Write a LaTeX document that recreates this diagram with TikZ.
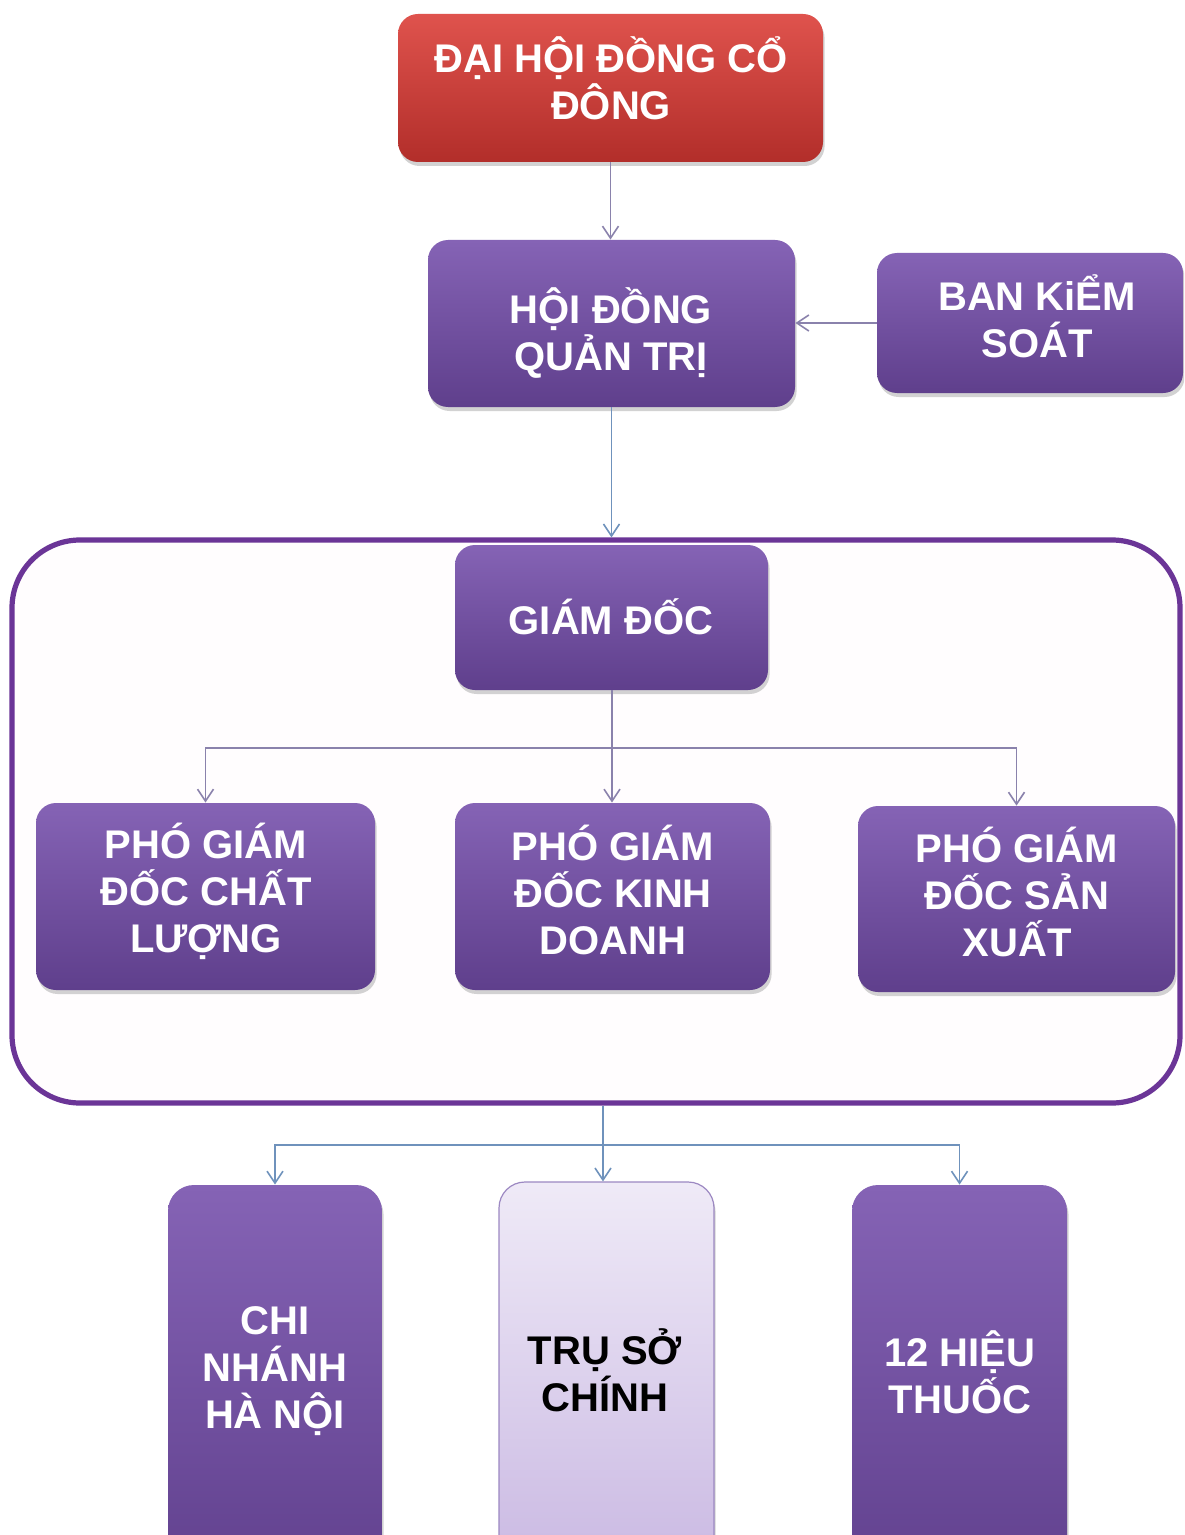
\documentclass[tikz,border=0pt]{standalone}
\usepackage{fontspec}
\setmainfont{Liberation Sans}
\usetikzlibrary{arrows.meta,shadows}
\definecolor{boxtop}{HTML}{8563B5}
\definecolor{boxbot}{HTML}{5F3F8C}
\definecolor{redtop}{HTML}{DF534D}
\definecolor{redbot}{HTML}{B22E2A}
\definecolor{lighttop}{HTML}{EFEAF7}
\definecolor{lightbot}{HTML}{C7B5E1}
\definecolor{lightedge}{HTML}{9C88C2}
\definecolor{framecol}{HTML}{6B3597}
\definecolor{framefill}{HTML}{FFFDFE}
\definecolor{conncol}{HTML}{8A82AC}
\definecolor{connblue}{HTML}{6F92BC}
\tikzset{
  orgbox/.style={rectangle, rounded corners=10pt, draw=none, top color=boxtop, bottom color=boxbot,
    drop shadow={opacity=0.35, shadow xshift=0.8pt, shadow yshift=-2pt}, inner sep=0pt},
  redbox/.style={orgbox, top color=redtop, bottom color=redbot},
  lightbox/.style={orgbox, top color=lighttop, bottom color=lightbot, draw=lightedge, line width=0.6pt},
  tallbox/.style={rounded corners=13pt},
  lbl/.style={font=\bfseries\fontsize{20}{23.5}\selectfont, text=white, align=center, inner sep=0pt},
  lbldark/.style={lbl, text=black},
  conn/.style={draw=conncol, line width=0.8pt, -{Straight Barb[length=6pt,width=8pt,line width=0.8pt]}},
  connb/.style={conn, draw=connblue, -{Straight Barb[length=6pt,width=8pt,line width=0.8pt,color=connblue]}},
}
\begin{document}
\begin{tikzpicture}[x=0.5pt,y=-0.5pt]
\useasboundingbox (0,0) rectangle (1184,1535);
\clip (0,0) rectangle (1184,1535);
\fill[white] (0,0) rectangle (1184,1535);

% container frame
\node[draw=framecol, line width=2.6pt, fill=framefill, rounded corners=34pt,
      minimum width=584pt, minimum height=281.5pt, inner sep=0pt] (frame) at (596,821.5) {};

% boxes
\node[redbox, minimum width=212.5pt, minimum height=74pt] (dhcd) at (610.5,88) {};
\node[orgbox, minimum width=183.5pt, minimum height=83.5pt] (hdqt) at (611.5,323.5) {};
\node[orgbox, minimum width=153pt, minimum height=70pt] (bks) at (1030,323) {};
\node[orgbox, minimum width=156.5pt, minimum height=72.5pt] (gd) at (611.5,617.5) {};
\node[orgbox, minimum width=169.5pt, minimum height=93.5pt] (pgdl) at (205.5,896.5) {};
\node[orgbox, minimum width=157.5pt, minimum height=93.5pt] (pgdm) at (612.5,896.5) {};
\node[orgbox, minimum width=158.5pt, minimum height=93pt] (pgdr) at (1016.5,899) {};
\node[orgbox, tallbox, minimum width=107pt, minimum height=207.5pt] (cnhn) at (275,1392.5) {};
\node[lightbox, tallbox, minimum width=107.5pt, minimum height=209pt] (tsc) at (606.5,1391) {};
\node[orgbox, tallbox, minimum width=107.5pt, minimum height=207.5pt] (hieu) at (959.5,1392.5) {};

% labels
\node[lbl] (tdhcd) at (611,78) {ĐẠI HỘI ĐỒNG CỔ\\ĐÔNG};
\node[lbl] (thdqt) at (611,333) {HỘI ĐỒNG\\QUẢN TRỊ};
\node[lbl] (tbks) at (1037,316) {BAN KiỂM\\SOÁT};
\node[lbl] (tgd) at (611,617) {GIÁM ĐỐC};
\node[lbl] (tpgdl) at (206,891) {PHÓ GIÁM\\ĐỐC CHẤT\\LƯỢNG};
\node[lbl] (tpgdm) at (613,890) {PHÓ GIÁM\\ĐỐC KINH\\DOANH};
\node[lbl] (tpgdr) at (1017,892) {PHÓ GIÁM\\ĐỐC SẢN\\XUẤT};
\node[lbl] (tcnhn) at (275,1371) {CHI\\NHÁNH\\HÀ NỘI};
\node[lbldark] (ttsc) at (605,1370) {TRỤ SỞ\\CHÍNH};
\node[lbl] (thieu) at (960,1372) {12 HIỆU\\THUỐC};

% connectors
\draw[conn] (dhcd.south) -- (dhcd.south |- hdqt.north);
\draw[conn] (bks.west) -- (hdqt.east |- bks.west);
\draw[connb] (hdqt.south) -- (hdqt.south |- frame.north);

\coordinate (j1) at (612,748);
\draw[conn] (j1 |- gd.south) -- (j1 |- pgdm.north);
\draw[conn] (j1) -| (pgdl.north);
\draw[conn] (j1) -| (pgdr.north);

\coordinate (j2) at (603,1145);
\draw[connb] (j2 |- frame.south) -- (j2 |- tsc.north);
\draw[connb] (j2) -| (cnhn.north);
\draw[connb] (j2) -| (hieu.north);
\end{tikzpicture}
\end{document}
